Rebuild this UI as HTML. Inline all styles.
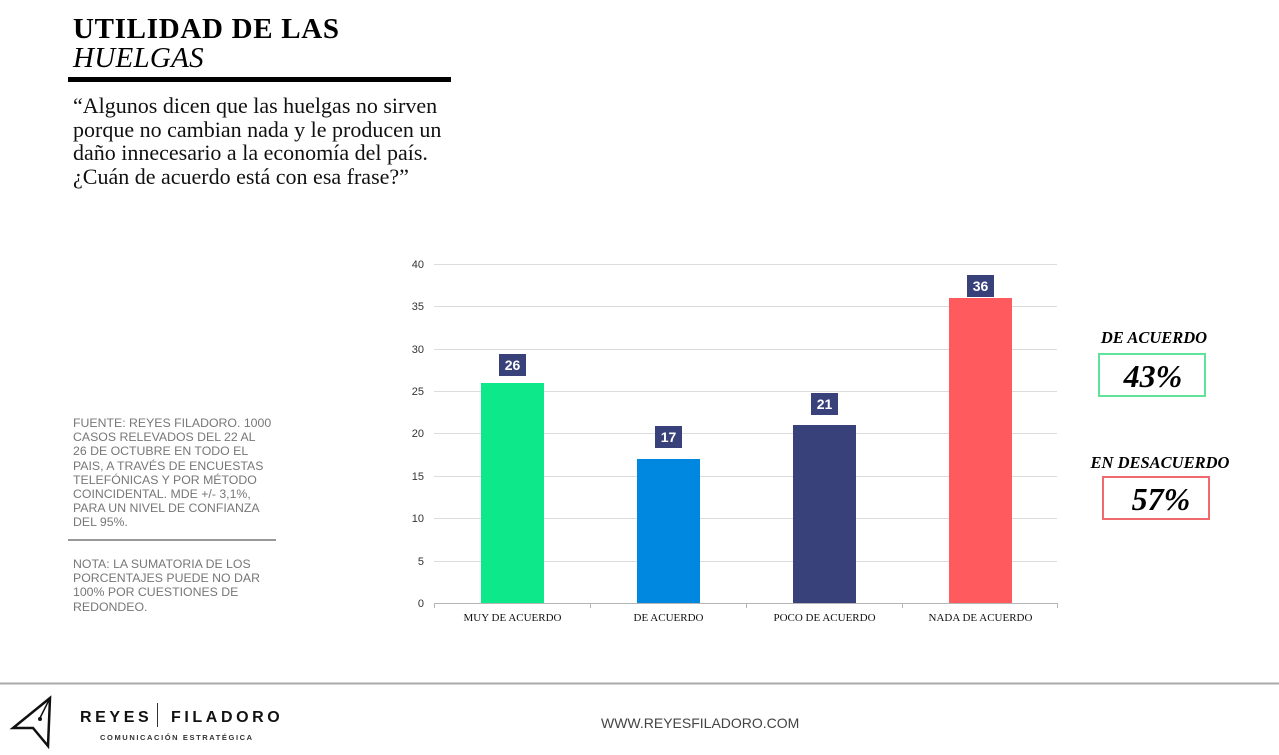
<!DOCTYPE html>
<html><head><meta charset="utf-8"><style>
html,body{margin:0;padding:0;background:#fff;}
body{width:1279px;height:755px;position:relative;overflow:hidden;}
.a{position:absolute;white-space:nowrap;}
.serif{font-family:"Liberation Serif","DejaVu Serif",serif;}
.sans{font-family:"Liberation Sans","DejaVu Sans",sans-serif;}
</style></head><body>
<div class="a serif" style="left:73px;top:13px;font-size:29px;font-weight:bold;line-height:32px;letter-spacing:0.7px;color:#000;">UTILIDAD DE LAS</div>
<div class="a serif" style="left:73px;top:42px;font-size:29px;font-style:italic;line-height:32px;letter-spacing:0.3px;color:#000;">HUELGAS</div>
<div class="a" style="left:68px;top:77px;width:383px;height:5px;background:#000;"></div>
<div class="a serif" style="left:73px;top:94px;font-size:22px;line-height:23.5px;color:#111;">“Algunos dicen que las huelgas no sirven<br>porque no cambian nada y le producen un<br>daño innecesario a la economía del país.<br>¿Cuán de acuerdo está con esa frase?”</div>

<div class="a sans" style="left:73px;top:416px;font-size:12.3px;line-height:14.2px;color:#777;">FUENTE: REYES FILADORO. 1000<br>CASOS RELEVADOS DEL 22 AL<br>26 DE OCTUBRE EN TODO EL<br>PAIS, A TRAVÉS DE ENCUESTAS<br>TELEFÓNICAS Y POR MÉTODO<br>COINCIDENTAL. MDE +/- 3,1%,<br>PARA UN NIVEL DE CONFIANZA<br>DEL 95%.</div>
<div class="a" style="left:68px;top:539px;width:208px;height:2px;background:#999;"></div>
<div class="a sans" style="left:73px;top:557px;font-size:12.3px;line-height:14.2px;color:#777;">NOTA: LA SUMATORIA DE LOS<br>PORCENTAJES PUEDE NO DAR<br>100% POR CUESTIONES DE<br>REDONDEO.</div>

<svg class="a" style="left:0;top:0" width="1279" height="755" xmlns="http://www.w3.org/2000/svg">
  <g stroke="#dcdcdc" stroke-width="1">
    <line x1="434" y1="264.5" x2="1057" y2="264.5"/>
    <line x1="434" y1="306.5" x2="1057" y2="306.5"/>
    <line x1="434" y1="349.5" x2="1057" y2="349.5"/>
    <line x1="434" y1="391.5" x2="1057" y2="391.5"/>
    <line x1="434" y1="433.5" x2="1057" y2="433.5"/>
    <line x1="434" y1="476.5" x2="1057" y2="476.5"/>
    <line x1="434" y1="518.5" x2="1057" y2="518.5"/>
    <line x1="434" y1="561.5" x2="1057" y2="561.5"/>
  </g>
  <g font-family="Liberation Sans, DejaVu Sans, sans-serif" font-size="11" fill="#333" text-anchor="end">
    <text x="424" y="268">40</text>
    <text x="424" y="310">35</text>
    <text x="424" y="353">30</text>
    <text x="424" y="395">25</text>
    <text x="424" y="437">20</text>
    <text x="424" y="480">15</text>
    <text x="424" y="522">10</text>
    <text x="424" y="565">5</text>
    <text x="424" y="607">0</text>
  </g>
  <rect x="481" y="383" width="63" height="220" fill="#0de88a"/>
  <rect x="637" y="459" width="63" height="144" fill="#0088e0"/>
  <rect x="793" y="425" width="63" height="178" fill="#39417a"/>
  <rect x="949" y="298" width="63" height="305" fill="#ff5a5e"/>
  <g stroke="#b5b5b5" stroke-width="1">
    <line x1="434" y1="603.5" x2="1057" y2="603.5"/>
    <line x1="434.5" y1="603" x2="434.5" y2="608"/>
    <line x1="590.5" y1="603" x2="590.5" y2="608"/>
    <line x1="746.5" y1="603" x2="746.5" y2="608"/>
    <line x1="902.5" y1="603" x2="902.5" y2="608"/>
    <line x1="1057.5" y1="603" x2="1057.5" y2="608"/>
  </g>
  <g fill="#39417a">
    <rect x="499" y="354" width="27" height="22"/>
    <rect x="655" y="426" width="27" height="22"/>
    <rect x="811" y="393" width="27" height="22"/>
    <rect x="967" y="275" width="27" height="22"/>
  </g>
  <g font-family="Liberation Sans, DejaVu Sans, sans-serif" font-size="14" font-weight="bold" fill="#fff" text-anchor="middle">
    <text x="512.5" y="370">26</text>
    <text x="668.5" y="442">17</text>
    <text x="824.5" y="409">21</text>
    <text x="980.5" y="291">36</text>
  </g>
  <g font-family="Liberation Serif, DejaVu Serif, serif" font-size="11" fill="#111" text-anchor="middle">
    <text x="512.5" y="621">MUY DE ACUERDO</text>
    <text x="668.5" y="621">DE ACUERDO</text>
    <text x="824.5" y="621">POCO DE ACUERDO</text>
    <text x="980.5" y="621">NADA DE ACUERDO</text>
  </g>
  <!-- right summary -->
  <text x="1154" y="343" font-family="Liberation Serif, DejaVu Serif, serif" font-size="16.5" font-weight="bold" font-style="italic" text-anchor="middle" fill="#000">DE ACUERDO</text>
  <rect x="1099" y="354" width="106" height="42" fill="none" stroke="#5fe39a" stroke-width="2"/>
  <text x="1153" y="387" font-family="Liberation Serif, DejaVu Serif, serif" font-size="32" font-weight="bold" font-style="italic" text-anchor="middle" fill="#000">43%</text>
  <text x="1160" y="468" font-family="Liberation Serif, DejaVu Serif, serif" font-size="16.5" font-weight="bold" font-style="italic" text-anchor="middle" fill="#000">EN DESACUERDO</text>
  <rect x="1103" y="477" width="106" height="42" fill="none" stroke="#ee6a6e" stroke-width="2"/>
  <text x="1161" y="510" font-family="Liberation Serif, DejaVu Serif, serif" font-size="32" font-weight="bold" font-style="italic" text-anchor="middle" fill="#000">57%</text>
  <!-- footer -->
  <line x1="0" y1="683.5" x2="1279" y2="683.5" stroke="#aaa" stroke-width="2"/>
  <path d="M50,698 L13,728 L33,728 L48,746 Z" fill="none" stroke="#111" stroke-width="2.5" stroke-linejoin="miter"/>
  <line x1="50" y1="698" x2="40" y2="718" stroke="#111" stroke-width="1.5"/>
  <circle cx="40" cy="719" r="2" fill="#111"/>
  <text x="80" y="722" font-family="Liberation Sans, DejaVu Sans, sans-serif" font-size="16" font-weight="bold" letter-spacing="3.6" fill="#111">REYES</text>
  <line x1="157.5" y1="703" x2="157.5" y2="727" stroke="#333" stroke-width="1"/>
  <text x="171" y="722" font-family="Liberation Sans, DejaVu Sans, sans-serif" font-size="16" font-weight="bold" letter-spacing="3.6" fill="#111">FILADORO</text>
  <text x="100" y="740" font-family="Liberation Sans, DejaVu Sans, sans-serif" font-size="7.5" font-weight="bold" letter-spacing="1.6" fill="#333">COMUNICACIÓN ESTRATÉGICA</text>
  <text x="601" y="728" font-family="Liberation Sans, DejaVu Sans, sans-serif" font-size="14" fill="#444">WWW.REYESFILADORO.COM</text>
</svg>
</body></html>
